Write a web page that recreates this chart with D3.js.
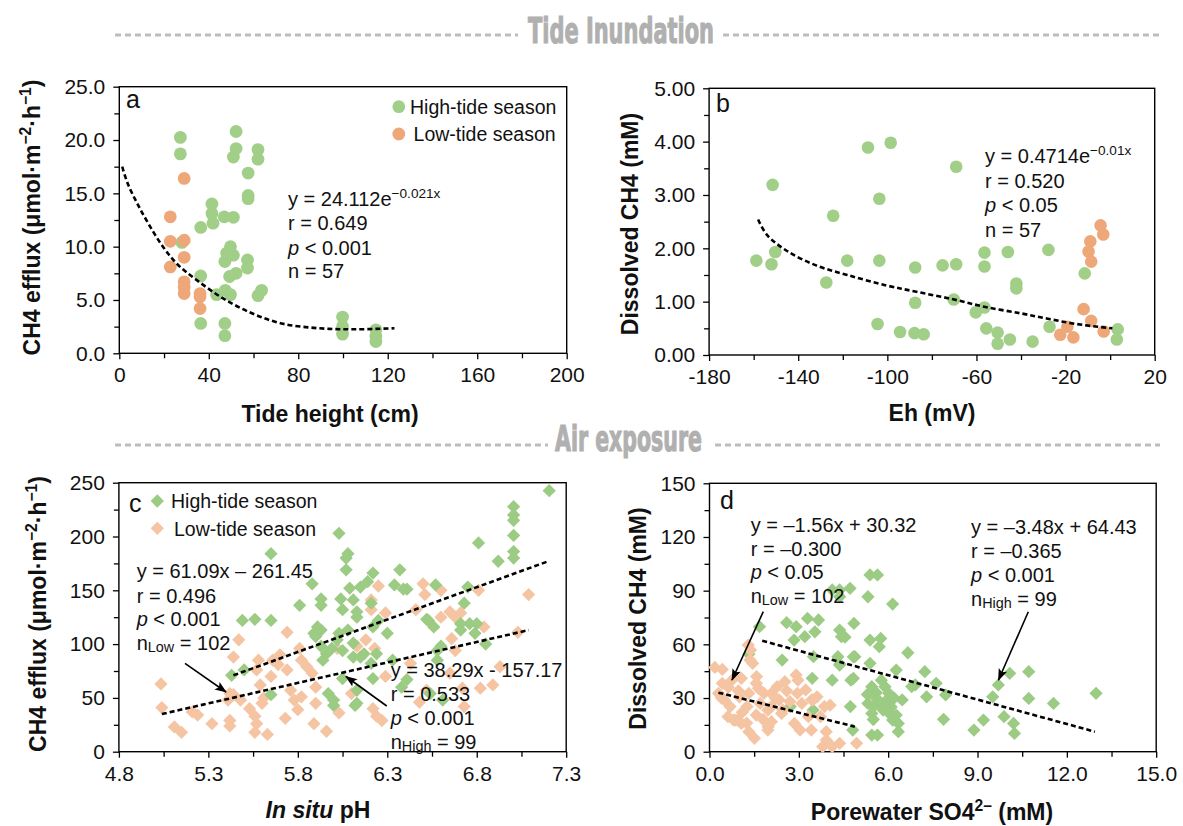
<!DOCTYPE html>
<html><head><meta charset="utf-8">
<script src="https://cdn.jsdelivr.net/npm/d3@7"></script>
<style>
body{margin:0;background:#fff;}
svg{display:block;font-family:"Liberation Sans",Arial,Helvetica,sans-serif;}
</style></head><body>
<svg id="chart" width="1183" height="826"></svg>
<script>
// ---------- Panel a : CH4 efflux vs tide height ----------
const aHighX = [27.3,27.3,28,36.4,36.4,36.4,41.4,41.4,41.9,46.9,51,43.5,47.4,49.7,47.2,47.2,47.2,48,49.7,51,49.3,52.2,52.2,52.2,51,57.6,57.6,57.6,57.3,57.3,62,62,62,63.6,99.8,99.8,99.8,114.7,114.7,114.7];
const aHighY = [20.25,18.7,10.4,11.8,7.25,2.8,14.0,13.1,12.2,12.8,12.75,5.5,5.9,5.5,2.8,1.65,8.6,9.4,10.0,9.2,7.2,7.5,20.8,19.2,18.4,16.9,14.8,14.5,8.75,8.0,19.1,18.2,5.4,5.9,3.4,2.5,1.8,2.2,1.1,1.6];
const aLowX = [22.8,22.8,22.8,29,29,29,29,29,29,36.1,36.1,36.1];
const aLowY = [12.8,10.5,8.1,16.4,10.6,9.0,6.7,6.2,5.6,5.6,4.2,5.3];
const aFitX = [1.3,3.8,7.9,12.9,19.5,26.2,34.4,46,59.3,72.5,89,105.6,123];
const aFitY = [17.5,15.9,14.1,12.2,10.0,8.3,6.9,5.2,3.75,2.8,2.35,2.25,2.35];
const aXTicks = [0,40,80,120,160,200], aXMinor = [20,60,100,140,180];
const aYTicks = [0,5,10,15,20,25], aYMinor = [2.5,7.5,12.5,17.5,22.5];

// ---------- Panel b : dissolved CH4 vs Eh ----------
const bHighX = [-158.8,-152,-150.3,-151.5,-127.4,-124.3,-118,-108.7,-98.5,-103.6,-103.6,-104.4,-94.3,-87.5,-87.5,-87.8,-83.7,-75.2,-69.1,-69.1,-70.2,-60.3,-56.4,-56.4,-56.4,-55.6,-50.5,-50.5,-45,-45.9,-42.1,-42.1,-34.8,-27.7,-27.2,-11.4,3.4,3.0];
const bHighY = [1.77,1.70,1.93,3.19,1.36,2.61,1.77,3.89,3.98,2.93,1.77,0.58,0.43,1.64,0.98,0.41,0.39,1.68,1.70,3.53,1.04,0.80,1.92,1.66,0.89,0.50,0.42,0.21,0.29,1.93,1.34,1.25,0.25,1.97,0.53,1.53,0.48,0.29];
const bLowX = [-4.3,-3.1,-8.9,-9.7,-8.5,-11.9,-8.5,-2.9,-22.4,-19.2,-16.5];
const bLowY = [2.43,2.26,2.13,1.94,1.75,0.86,0.64,0.44,0.38,0.53,0.33];
const bFitX = [-158,-154,-145,-132,-118,-100,-87.5,-70,-56,-40,-28,-15,1];
const bFitY = [2.54,2.25,1.95,1.68,1.50,1.30,1.19,1.04,0.90,0.78,0.68,0.58,0.50];
const bXTicks = [-180,-140,-100,-60,-20,20], bXMinor = [-160,-120,-80,-40,0];
const bYTicks = [0,1,2,3,4,5], bYMinor = [0.5,1.5,2.5,3.5,4.5];

// ---------- Panel c : CH4 efflux vs in situ pH ----------
const cHighX = [7.205,7.006,7.006,7.006,7.006,7.006,7.006,6.92,6.81,6.75,6.73,6.71,6.71,6.80,6.85,6.57,6.53,6.58,6.58,6.61,6.37,6.34,6.41,6.30,6.33,6.38,6.22,6.19,6.15,6.21,6.13,6.22,6.24,6.22,6.13,6.12,6.03,6.08,6.07,6.07,6.09,6.04,6.05,6.11,6.13,6.08,6.11,6.11,6.15,6.05,6.03,5.99,5.94,5.93,5.93,5.91,5.89,5.93,5.93,5.88,5.81,6.05,5.97,6.0,6.0,5.65,5.65,5.56,5.49,5.50,5.43,5.65,6.21,6.52,6.56,6.76,6.79,6.60,5.96,6.02,6.17,6.54,6.41,5.90,6.13,6.25,6.39];
const cHighY = [242.6,227.7,220,215,201,186,180,177,194,153,138,119,113,119,100,155,122,94,85,48,169,155,151,110,85,60,166,158,153,138,130,116,91,68,57,43,203,184,180,169,152,142,132,141,125,113,101,88,88,94,110,96,85,98,113,116,110,142,136,156,136,68,54,48,43,184,122,123,122,76,71,53,82,123,116,119,110,98,91,104,91,54,67,107,45,122,151];
const cLowX = [5.035,5.04,5.11,5.15,5.24,5.32,5.42,5.42,5.41,5.44,5.47,5.44,5.53,5.56,5.56,5.63,5.59,5.61,5.65,5.70,5.69,5.74,5.73,5.80,5.82,5.81,5.82,5.85,5.88,5.90,5.89,5.96,5.90,6.03,6.02,6.10,6.13,6.18,6.21,6.21,6.23,6.25,6.22,6.24,6.27,6.29,6.29,6.43,6.46,6.50,6.51,6.48,6.52,6.60,6.60,6.65,6.68,6.71,6.66,6.68,6.65,6.72,6.73,6.81,6.84,6.82,6.89,6.93,7.03,7.09,5.58,5.66,5.57,5.42,5.48,5.60,5.21,5.57,5.78,5.76,5.74];
const cLowY = [63,41,23,18,34,26,29,24,48,53,104,88,40,33,18,16,62,50,70,90,81,111,31,39,51,96,85,79,73,60,26,19,45,36,96,54,98,104,132,141,96,154,40,33,29,129,70,82,132,156,146,46,57,150,125,130,125,129,105,94,73,59,42,150,116,59,62,79,111,146,85,85,76,54,48,45,37,26,48,57,76];
const cFitHighX = [5.44,7.2], cFitHighY = [71,177];
const cFitLowX = [5.04,7.09], cFitLowY = [35,113];
const cXTicks = [4.8,5.3,5.8,6.3,6.8,7.3], cXMinor = [5.05,5.55,6.05,6.55,7.05];
const cYTicks = [0,50,100,150,200,250], cYMinor = [25,75,125,175,225];

// ---------- Panel d : dissolved CH4 vs porewater SO4 ----------
const dHighX = [1.68,1.32,2.59,2.91,2.84,3.29,3.66,3.54,3.2,2.44,3.49,3.45,4.12,4.37,4.72,4.37,5.32,5.39,5.64,6.15,4.37,4.43,4.85,4.31,4.37,4.88,4.75,4.12,4.73,4.81,5.39,5.75,5.70,5.39,5.45,5.77,5.89,5.32,5.51,5.70,5.45,5.83,6.02,6.27,6.47,6.66,6.27,6.34,6.34,6.15,5.45,5.64,6.91,7.23,7.61,7.29,7.93,7.86,8.88,9.2,9.51,9.70,10.08,10.72,9.89,10.21,10.24,10.72,11.55,12.98,3.48,2.71,4.55,4.83,4.38,4.83,6.79,5.6,5.9,6.1,5.6,5.3,6.0,5.5,6.2];
const dHighY = [69.9,54.6,72.1,69.9,62.4,74.5,73.6,67,64.3,51.2,53.1,41,90.4,90.4,91.3,86.6,86.6,98.8,98.8,82.5,68,64.3,71.7,53.1,48.4,53.1,40,40,25.2,12.1,62.4,63.3,58.7,49.4,36.3,40,36.3,27,25.2,27,21.4,23.3,32.6,45.6,28.9,55.3,20.5,15.8,11.2,17.7,9.3,9.3,37.3,44.7,38.2,30.7,31.7,18.1,12.1,17.7,30.7,37.3,43.8,44.7,19.6,15.8,10.2,29.8,27,32.6,23.3,25.2,64,53,49,41,36.4,30,28,25,33,32,22,18,30];
const dLowX = [0.18,0.43,1.3,1.38,1.45,0.75,1.07,0.30,0.5,0.69,0.81,1.07,1.32,1.51,0.62,1.0,1.32,1.64,1.83,1.96,2.08,2.27,2.53,2.08,1.96,2.34,2.91,2.97,2.95,3.23,3.61,3.48,3.86,3.73,2.85,3.04,3.42,3.92,3.92,3.80,4.12,4.37,4.94,4.05,2.46,1.70,1.57,1.26,0.94,0.43,1.57,1.36,1.58,0.97,0.63,1.25,1.97,2.09,2.42,2.59,3.1,3.43,3.32,0.86,2.2,1.1,2.7,0.4,1.8];
const dLowY = [47.1,46,59.6,56.8,49.4,40,41,32.6,28.9,25.2,17.7,15.8,11.2,7.5,19.6,30.7,32.6,35.4,32.6,23.3,32.6,36.3,39.1,16.8,12.1,28.9,42.9,40,32.6,34.5,30.7,28.9,25.2,19.6,15.8,12.1,12.1,11.2,6.5,2.8,2.8,4.7,4.7,26,23.3,27,20.5,25.2,17.7,38.2,38.2,51.3,42,34,36,16,14,25.3,21.4,34,27,29,19.6,17.7,30,22,28,30,18];
const dFitLowX = [0.3,4.88], dFitLowY = [33,14];
const dFitHighX = [1.77,12.94], dFitHighY = [62,11.2];
const dXTicks = [0,3,6,9,12,15], dXMinor = [1.5,4.5,7.5,10.5,13.5];
const dYTicks = [0,30,60,90,120,150], dYMinor = [15,45,75,105,135];

// ---------- colours ----------
const greenCircle = "#a1cf87", orangeCircle = "#eea779";
const greenDiamond = "#9ccb84", orangeDiamond = "#f5c5a3";

const svg = d3.select("#chart");
svg.append("rect").attr("width",1183).attr("height",826).attr("fill","#fff");

const defs = svg.append("defs");
defs.append("marker").attr("id","arrow").attr("viewBox","-1 -5 14 10")
  .attr("refX",11).attr("refY",0).attr("markerWidth",14).attr("markerHeight",10)
  .attr("markerUnits","userSpaceOnUse").attr("orient","auto")
  .append("path").attr("d","M0,-4.5 L12,0 L0,4.5 L2.5,0 Z").attr("fill","#000");

const zip = (xs, ys) => xs.map((v,i)=>({x:v, y:ys[i]}));
const TXT = 20;

function rich(g, x, y, parts, size, opts){
  opts = opts || {};
  const t = g.append("text").attr("x",x).attr("y",y).attr("font-size",size)
    .attr("text-anchor", opts.anchor || "start").attr("fill","#111");
  if (opts.weight) t.attr("font-weight", opts.weight);
  if (opts.transform) t.attr("transform", opts.transform);
  let cur = 0;
  parts.forEach(p=>{
    const s = t.append("tspan").text(p.t);
    let target = 0;
    if (p.sup){ s.attr("font-size", size*0.68); target = -size*0.40; }
    if (p.sub){ s.attr("font-size", size*0.72); target = size*0.10; }
    if (p.i) s.attr("font-style","italic");
    if (target !== cur) s.attr("dy", target - cur);
    cur = target;
  });
  return t;
}

function panel(o){
  const g = svg.append("g");
  const x = d3.scaleLinear().domain(o.xDomain).range([o.left, o.right]);
  const y = d3.scaleLinear().domain(o.yDomain).range([o.bottom, o.top]);
  const style = sel => { sel.select(".domain").remove(); sel.selectAll("line").attr("stroke","#000").attr("stroke-width",1.3);
    sel.selectAll("text").attr("font-size",21).attr("fill","#111").attr("font-family","'Liberation Sans',Arial,sans-serif"); };
  g.append("g").attr("transform",`translate(0,${o.bottom})`)
    .call(d3.axisBottom(x).tickValues(o.xMinor).tickSize(5).tickFormat("")).call(style);
  g.append("g").attr("transform",`translate(0,${o.bottom})`)
    .call(d3.axisBottom(x).tickValues(o.xTicks).tickSize(6).tickPadding(8).tickFormat(o.xFmt)).call(style);
  g.append("g").attr("transform",`translate(${o.left},0)`)
    .call(d3.axisLeft(y).tickValues(o.yMinor).tickSize(5).tickFormat("")).call(style);
  g.append("g").attr("transform",`translate(${o.left},0)`)
    .call(d3.axisLeft(y).tickValues(o.yTicks).tickSize(6).tickPadding(8).tickFormat(o.yFmt)).call(style);
  g.append("rect").attr("x",o.left).attr("y",o.top).attr("width",o.right-o.left)
    .attr("height",o.bottom-o.top).attr("fill","none").attr("stroke","#000").attr("stroke-width",1.4);
  return {g, x, y};
}

function circles(p, data, color, r){
  p.g.append("g").selectAll("circle").data(data).join("circle")
    .attr("cx",d=>p.x(d.x)).attr("cy",d=>p.y(d.y)).attr("r",r).attr("fill",color);
}
function diamonds(p, data, color){
  const sym = d3.symbol(d3.symbolSquare, 88);
  p.g.append("g").selectAll("path").data(data).join("path")
    .attr("d", sym).attr("fill", color)
    .attr("transform", d=>`translate(${p.x(d.x)},${p.y(d.y)}) rotate(45)`);
}
function fit(p, xs, ys, curve){
  const line = d3.line().x(d=>p.x(d.x)).y(d=>p.y(d.y)).curve(curve || d3.curveLinear);
  p.g.append("path").attr("d", line(zip(xs,ys))).attr("fill","none")
    .attr("stroke","#000").attr("stroke-width",2.6).attr("stroke-dasharray","5,3");
}
function arrow(g, x1,y1,x2,y2){
  g.append("line").attr("x1",x1).attr("y1",y1).attr("x2",x2).attr("y2",y2)
    .attr("stroke","#000").attr("stroke-width",1.6).attr("marker-end","url(#arrow)");
}
function header(label, baseline, lineY, tx1, tx2, leftEnd, rightStart){
  const g = svg.append("g");
  const dash = {stroke:"#bdbdbd", w:3, da:"6,4"};
  g.append("line").attr("x1",115).attr("x2",leftEnd).attr("y1",lineY).attr("y2",lineY)
    .attr("stroke",dash.stroke).attr("stroke-width",dash.w).attr("stroke-dasharray",dash.da);
  g.append("line").attr("x1",rightStart).attr("x2",1160).attr("y1",lineY).attr("y2",lineY)
    .attr("stroke",dash.stroke).attr("stroke-width",dash.w).attr("stroke-dasharray",dash.da);
  g.append("text").attr("x",tx1).attr("y",baseline).text(label)
    .attr("font-family","'Liberation Sans Narrow','DejaVu Sans Condensed','Liberation Sans',sans-serif")
    .attr("font-weight","bold").attr("font-size",35).attr("fill","#b0b0b0")
    .attr("stroke","#b0b0b0").attr("stroke-width",1.1)
    .attr("textLength", tx2-tx1).attr("lengthAdjust","spacingAndGlyphs");
}

header("Tide Inundation", 43, 35, 528, 714, 518, 723);
header("Air exposure", 451, 445, 555, 702, 548, 715);

// ---------- panel a ----------
const pa = panel({xDomain:[0,200], yDomain:[0,25], left:119.3, right:566.7, top:86.7, bottom:353.3,
  xTicks:aXTicks, xMinor:aXMinor, yTicks:aYTicks, yMinor:aYMinor,
  xFmt:d3.format("d"), yFmt:d3.format(".1f")});
circles(pa, zip(aHighX,aHighY), greenCircle, 6.4);
circles(pa, zip(aLowX,aLowY), orangeCircle, 6.4);
fit(pa, aFitX, aFitY, d3.curveCatmullRom);
pa.g.append("text").attr("x",126).attr("y",108).attr("font-size",25).attr("fill","#111").text("a");
pa.g.append("circle").attr("cx",398.8).attr("cy",106.7).attr("r",6.4).attr("fill",greenCircle);
pa.g.append("circle").attr("cx",398.8).attr("cy",134).attr("r",6.4).attr("fill",orangeCircle);
rich(pa.g, 410, 114, [{t:"High-tide season"}], 19.5);
rich(pa.g, 413.6, 141, [{t:"Low-tide season"}], 19.5);
rich(pa.g, 288, 206, [{t:"y = 24.112e"},{t:"\u22120.021x", sup:true}], TXT);
rich(pa.g, 288, 230, [{t:"r = 0.649"}], TXT);
rich(pa.g, 288, 255, [{t:"p", i:true},{t:" < 0.001"}], TXT);
rich(pa.g, 288, 278, [{t:"n = 57"}], TXT);
rich(pa.g, 330, 422, [{t:"Tide height (cm)"}], 23, {anchor:"middle", weight:"bold"});
rich(pa.g, 0, 0, [{t:"CH4 efflux (\u03bcmol\u00b7m"},{t:"\u22122", sup:true},{t:"\u00b7h"},{t:"\u22121", sup:true},{t:")"}], 23,
  {anchor:"middle", weight:"bold", transform:"translate(40,217.5) rotate(-90)"});

// ---------- panel b ----------
const pb = panel({xDomain:[-180,20], yDomain:[0,5], left:709.1, right:1154.7, top:88.3, bottom:355,
  xTicks:bXTicks, xMinor:bXMinor, yTicks:bYTicks, yMinor:bYMinor,
  xFmt:d=> d<0 ? "-"+Math.abs(d) : String(d), yFmt:d3.format(".2f")});
circles(pb, zip(bHighX,bHighY), greenCircle, 6.3);
circles(pb, zip(bLowX,bLowY), orangeCircle, 6.3);
fit(pb, bFitX, bFitY, d3.curveCatmullRom);
pb.g.append("text").attr("x",716).attr("y",112).attr("font-size",25).attr("fill","#111").text("b");
rich(pb.g, 985, 163, [{t:"y = 0.4714e"},{t:"\u22120.01x", sup:true}], TXT);
rich(pb.g, 985, 188, [{t:"r = 0.520"}], TXT);
rich(pb.g, 985, 212, [{t:"p", i:true},{t:" < 0.05"}], TXT);
rich(pb.g, 985, 236.5, [{t:"n = 57"}], TXT);
rich(pb.g, 932, 421, [{t:"Eh (mV)"}], 23, {anchor:"middle", weight:"bold"});
rich(pb.g, 0, 0, [{t:"Dissolved CH4 (mM)"}], 23,
  {anchor:"middle", weight:"bold", transform:"translate(638,224) rotate(-90)"});

// ---------- panel c ----------
const pc = panel({xDomain:[4.8,7.3], yDomain:[0,250], left:118.9, right:566.2, top:482.7, bottom:751.7,
  xTicks:cXTicks, xMinor:cXMinor, yTicks:cYTicks, yMinor:cYMinor,
  xFmt:d3.format(".1f"), yFmt:d3.format("d")});
diamonds(pc, zip(cLowX,cLowY), orangeDiamond);
diamonds(pc, zip(cHighX,cHighY), greenDiamond);
fit(pc, cFitHighX, cFitHighY);
fit(pc, cFitLowX, cFitLowY);
pc.g.append("text").attr("x",129).attr("y",512).attr("font-size",25).attr("fill","#111").text("c");
const legSym = d3.symbol(d3.symbolSquare, 88);
pc.g.append("path").attr("d",legSym).attr("fill",greenDiamond).attr("transform","translate(157.3,501) rotate(45)");
pc.g.append("path").attr("d",legSym).attr("fill",orangeDiamond).attr("transform","translate(157.3,528.3) rotate(45)");
rich(pc.g, 171, 508, [{t:"High-tide season"}], 19.5);
rich(pc.g, 174, 536, [{t:"Low-tide season"}], 19.5);
rich(pc.g, 136.7, 578, [{t:"y = 61.09x \u2013 261.45"}], TXT);
rich(pc.g, 136.7, 602.5, [{t:"r = 0.496"}], TXT);
rich(pc.g, 136.7, 626, [{t:"p", i:true},{t:" < 0.001"}], TXT);
rich(pc.g, 136.7, 650, [{t:"n"},{t:"Low", sub:true},{t:" = 102"}], TXT);
arrow(pc.g, 185, 663.3, 226, 692);
rich(pc.g, 390.7, 677, [{t:"y = 38.29x - 157.17"}], TXT);
rich(pc.g, 390.7, 701, [{t:"r = 0.533"}], TXT);
rich(pc.g, 390.7, 724.5, [{t:"p", i:true},{t:" < 0.001"}], TXT);
rich(pc.g, 390.7, 748.5, [{t:"n"},{t:"High", sub:true},{t:" = 99"}], TXT);
arrow(pc.g, 386.7, 706, 346, 676.5);
rich(pc.g, 318, 818, [{t:"In situ", i:true},{t:" pH"}], 23, {anchor:"middle", weight:"bold"});
rich(pc.g, 0, 0, [{t:"CH4 efflux (\u03bcmol\u00b7m"},{t:"\u22122", sup:true},{t:"\u00b7h"},{t:"\u22121", sup:true},{t:")"}], 23,
  {anchor:"middle", weight:"bold", transform:"translate(46,614) rotate(-90)"});

// ---------- panel d ----------
const pd = panel({xDomain:[0,15], yDomain:[0,150], left:709.5, right:1156.2, top:483.3, bottom:751.7,
  xTicks:dXTicks, xMinor:dXMinor, yTicks:dYTicks, yMinor:dYMinor,
  xFmt:d3.format(".1f"), yFmt:d3.format("d")});
diamonds(pd, zip(dHighX,dHighY), greenDiamond);
diamonds(pd, zip(dLowX,dLowY), orangeDiamond);
fit(pd, dFitLowX, dFitLowY);
fit(pd, dFitHighX, dFitHighY);
pd.g.append("text").attr("x",720).attr("y",509).attr("font-size",25).attr("fill","#111").text("d");
rich(pd.g, 750.7, 532, [{t:"y = \u20131.56x + 30.32"}], TXT);
rich(pd.g, 750.7, 555.5, [{t:"r = \u20130.300"}], TXT);
rich(pd.g, 750.7, 579, [{t:"p", i:true},{t:" < 0.05"}], TXT);
rich(pd.g, 750.7, 602.5, [{t:"n"},{t:"Low", sub:true},{t:" = 102"}], TXT);
arrow(pd.g, 763.3, 611.7, 732, 680);
rich(pd.g, 971, 534, [{t:"y = \u20133.48x + 64.43"}], TXT);
rich(pd.g, 971, 558, [{t:"r = \u20130.365"}], TXT);
rich(pd.g, 971, 582, [{t:"p", i:true},{t:" < 0.001"}], TXT);
rich(pd.g, 971, 605.5, [{t:"n"},{t:"High", sub:true},{t:" = 99"}], TXT);
arrow(pd.g, 1028.3, 611.7, 998.5, 680);
rich(pd.g, 932, 820, [{t:"Porewater SO4"},{t:"2\u2013", sup:true},{t:" (mM)"}], 23, {anchor:"middle", weight:"bold"});
rich(pd.g, 0, 0, [{t:"Dissolved CH4 (mM)"}], 23,
  {anchor:"middle", weight:"bold", transform:"translate(646,618.5) rotate(-90)"});
</script>
</body></html>
